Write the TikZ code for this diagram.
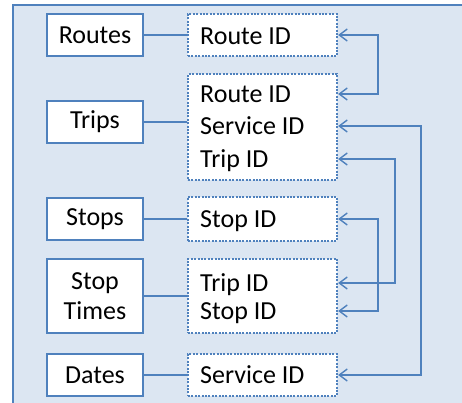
\documentclass[tikz,border=0pt]{standalone}
\usepackage{fontspec}
\setmainfont{Carlito}
\usetikzlibrary{arrows.meta}
\definecolor{boxblue}{RGB}{79,129,189}
\definecolor{panelblue}{RGB}{220,230,242}

\begin{document}
\begin{tikzpicture}[x=1pt,y=-1pt,
        table/.style={draw=boxblue,line width=2.5pt,fill=white,minimum width=96pt,minimum height=42pt,inner sep=0pt,align=center,font=\fontsize{26}{30}\selectfont},
        keys/.style={draw=boxblue,line width=2.2pt,dash pattern=on 2pt off 1.4pt,fill=white,minimum width=149pt,inner sep=0pt},
        field/.style={anchor=west,inner sep=0pt,font=\fontsize{26}{30}\selectfont,text height=16.8pt,text depth=0pt},
        link/.style={boxblue,line width=1.4pt},
        ref/.style={link,{Straight Barb[length=8pt,width=12pt]}-{Straight Barb[length=8pt,width=12pt]}}]
        \useasboundingbox(0,0)rectangle(462,403);
        \clip(0,0)rectangle(462,403);

        % panel
        \fill[panelblue](13,5)rectangle(470,410);
        \draw[boxblue,line width=2.5pt](13,410)--(13,5)--(470,5);

        % tables
        \node[table](routes)at(95,35){Routes};
        \node[table](trips)at(95,122){Trips};
        \node[table](stops)at(95,219){Stops};
        \node[table,minimum height=74pt](stoptimes)at(95,296){Stop\\Times};
        \node[table](dates)at(95,375){Dates};

        % key boxes
        \node[keys,minimum height=42pt](routekeys)at(262.5,35){};
        \node[keys,minimum height=106pt](tripkeys)at(262.5,127){};
        \node[keys,minimum height=44pt](stopkeys)at(262.5,219){};
        \node[keys,minimum height=74pt](stoptimekeys)at(262.5,296){};
        \node[keys,minimum height=42pt](datekeys)at(262.5,375){};

        \node[field](routeid)at(200,36){Route ID};
        \node[field](triproute)at(200,94){Route ID};
        \node[field](tripservice)at(200,126){Service ID};
        \node[field](tripid)at(200,159){Trip ID};
        \node[field](stopid)at(200,219){Stop ID};
        \node[field](sttrip)at(200,283){Trip ID};
        \node[field](ststop)at(200,311){Stop ID};
        \node[field](serviceid)at(200,375){Service ID};

        \draw[link](routes)--(routekeys);
        \draw[link](trips.east)--(trips.east-|tripkeys.west);
        \draw[link](stops)--(stopkeys);
        \draw[link](stoptimes)--(stoptimekeys);
        \draw[link](dates)--(datekeys);

        % references between tables
        \draw[ref](tripkeys.east|-triproute)--++(40,0)|-(routekeys.east);
        \draw[ref](tripkeys.east|-tripservice)--++(83,0)|-(datekeys.east|-serviceid);
        \draw[ref](tripkeys.east|-tripid)--++(57,0)|-(stoptimekeys.east|-sttrip);
        \draw[ref](stopkeys.east|-stopid)--++(40,0)|-(stoptimekeys.east|-ststop);
    \end{tikzpicture}
\end{document}
